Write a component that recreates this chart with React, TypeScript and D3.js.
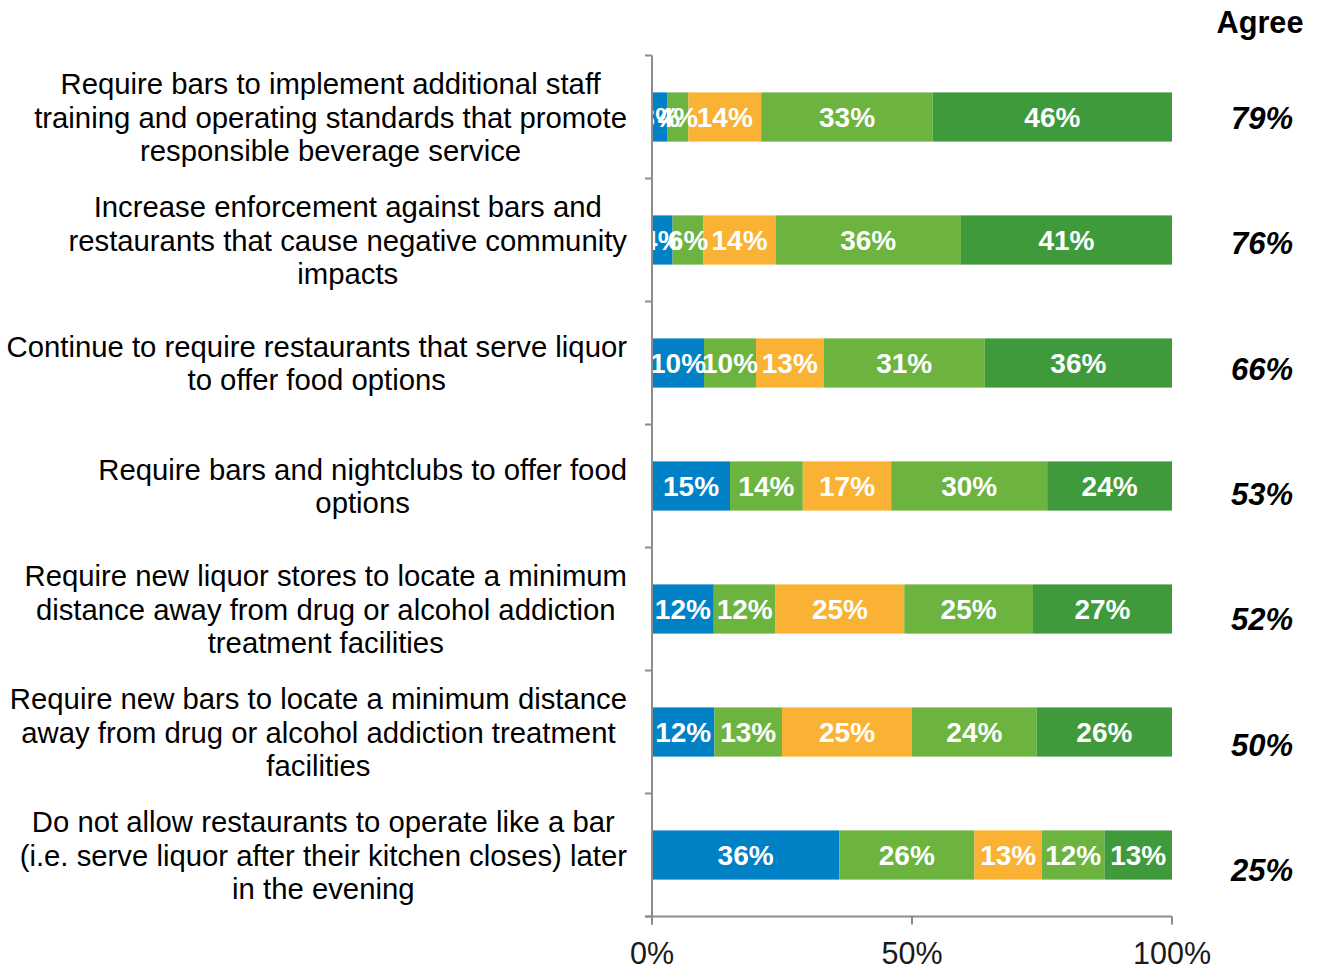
import React from "react";
import * as d3 from "d3";

const categories: string[][] = [
  ["Require bars to implement additional staff", "training and operating standards that promote", "responsible beverage service"],
  ["Increase enforcement against bars and", "restaurants that cause negative community", "impacts"],
  ["Continue to require restaurants that serve liquor", "to offer food options"],
  ["Require bars and nightclubs to offer food", "options"],
  ["Require new liquor stores to locate a minimum", "distance away from drug or alcohol addiction", "treatment facilities"],
  ["Require new bars to locate a minimum distance", "away from drug or alcohol addiction treatment", "facilities"],
  ["Do not allow restaurants to operate like a bar", "(i.e. serve liquor after their kitchen closes) later", "in the evening"],
];

const strongDisagree = [3, 4, 10, 15, 12, 12, 36];
const disagree = [4, 6, 10, 14, 12, 13, 26];
const neutral = [14, 14, 13, 17, 25, 25, 13];
const agreeV = [33, 36, 31, 30, 25, 24, 12];
const strongAgree = [46, 41, 36, 24, 27, 26, 13];
const agreeTotal = [79, 76, 66, 53, 52, 50, 25];
const xTicks = [0, 50, 100];

const series = [strongDisagree, disagree, neutral, agreeV, strongAgree];
const colors = ["#0081C6", "#6CB33F", "#F9B233", "#6CB33F", "#3F9A3C"];

const FONT = "Liberation Sans, Arial, sans-serif";

function measure(text: string, font: string): number {
  const c = document.createElement("canvas");
  const ctx = c.getContext("2d")!;
  ctx.font = font;
  return ctx.measureText(text).width;
}

export default function App() {
  const W = 1317, H = 969;
  const x0 = 652, x1 = 1172, yTop = 55.5, yBot = 916.5;
  const x = d3.scaleLinear().domain([0, 100]).range([x0, x1]);
  const idx = categories.map((_, i) => i);
  const y = d3.scaleBand<number>().domain(idx).range([yTop, yBot]).paddingInner(0.6).paddingOuter(0.3);
  const yAgree = d3.scalePoint<number>().domain(idx).range([118, 870]);

  const labelFontSize = 29.3;
  const labelFont = `${labelFontSize}px ${FONT}`;
  const lineH = 33.5;
  const labelRight = 627;

  const step = (yBot - yTop) / categories.length;

  return (
    <svg width={W} height={H} style={{ position: "absolute", left: 0, top: 0, background: "#fff" }} fontFamily={FONT}>
      {idx.map((i) => {
        const total = series.reduce((s, a) => s + a[i], 0);
        let cum = 0;
        return (
          <g key={i}>
            {series.map((s, k) => {
              const start = (cum / total) * 100;
              cum += s[i];
              const end = (cum / total) * 100;
              const xs = x(start), xe = x(end);
              return <rect key={k} x={xs} y={y(i)!} width={xe - xs} height={y.bandwidth()} fill={colors[k]} />;
            })}
          </g>
        );
      })}
      {idx.map((i) => {
        const total = series.reduce((s, a) => s + a[i], 0);
        let cum = 0;
        return (
          <g key={"l" + i}>
            {series.map((s, k) => {
              const start = (cum / total) * 100;
              cum += s[i];
              const end = (cum / total) * 100;
              const cx = (x(start) + x(end)) / 2;
              return (
                <text key={k} x={cx} y={y(i)! + y.bandwidth() / 2 + 10} textAnchor="middle" fill="#fff" fontWeight="bold" fontSize={28}>
                  {s[i]}%
                </text>
              );
            })}
          </g>
        );
      })}
      <g stroke="#8c8c8c" strokeWidth={2} fill="none">
        <line x1={x0} x2={x0} y1={yTop} y2={yBot + 8} />
        {d3.range(categories.length + 1).map((j) => (
          <line key={j} x1={x0 - 7} x2={x0} y1={yTop + j * step} y2={yTop + j * step} />
        ))}
        <line x1={x0 - 7} x2={x1} y1={yBot} y2={yBot} />
        {xTicks.map((t) => (
          <line key={t} x1={x(t)} x2={x(t)} y1={yBot} y2={yBot + 8} />
        ))}
      </g>
      {xTicks.map((t) => (
        <text key={t} x={x(t)} y={964} textAnchor="middle" fontSize={30.5} fill="#1a1a1a">
          {t}%
        </text>
      ))}
      {categories.map((lines, i) => {
        const maxW = Math.max(...lines.map((l) => measure(l, labelFont)));
        const cx = labelRight - maxW / 2;
        const cy = y(i)! + y.bandwidth() / 2;
        const first = cy - ((lines.length - 1) * lineH) / 2;
        return (
          <text key={i} textAnchor="middle" fontSize={labelFontSize} fill="#000">
            {lines.map((l, j) => (
              <tspan key={j} x={cx} y={first + j * lineH + 10.5}>
                {l}
              </tspan>
            ))}
          </text>
        );
      })}
      <text x={1260} y={33} textAnchor="middle" fontWeight="bold" fontSize={30.7} fill="#000">
        Agree
      </text>
      {agreeTotal.map((v, i) => (
        <text key={i} x={1262} y={yAgree(i)! + 11} textAnchor="middle" fontWeight="bold" fontStyle="italic" fontSize={31} fill="#000">
          {v}%
        </text>
      ))}
    </svg>
  );
}
